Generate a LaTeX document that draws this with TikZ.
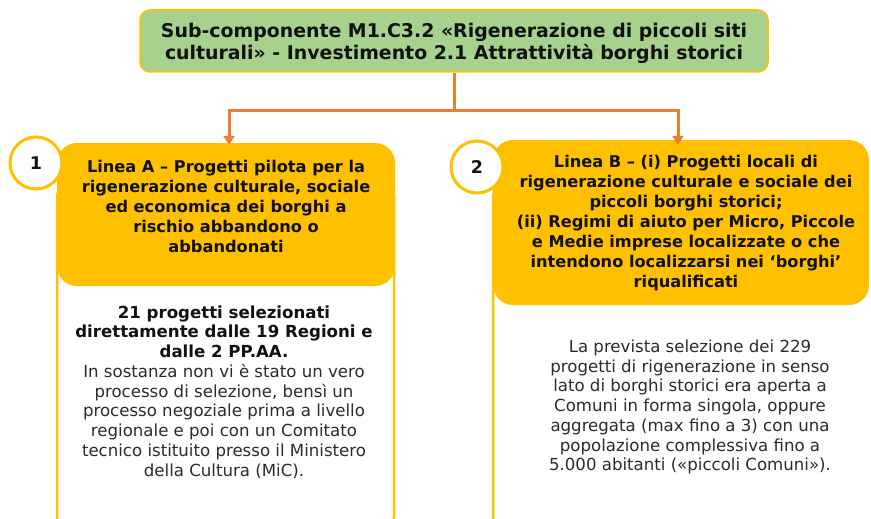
\documentclass[tikz,border=0pt]{standalone}
\usepackage{fontspec}
\setmainfont{DejaVu Sans}
\usetikzlibrary{arrows.meta}
\definecolor{gold}{HTML}{FFC000}
\definecolor{leaf}{HTML}{A9D18E}
\definecolor{connc}{HTML}{ED7D31}
\definecolor{ink}{HTML}{111111}
\definecolor{bodyc}{HTML}{2B2B2B}
\begin{document}
\begin{tikzpicture}[x=1pt,y=-1pt,
  titlebox/.style={draw=gold, line width=1.5pt, fill=leaf, rounded corners=10pt, inner sep=0pt, minimum width=628pt, minimum height=62pt},
  headbox/.style={fill=gold, rounded corners=20pt, inner sep=0pt},
  framebox/.style={draw=gold, line width=2.5pt, fill=white, rounded corners=18pt, inner sep=0pt},
  numcircle/.style={circle, draw=gold, line width=3pt, fill=white, minimum size=52pt, inner sep=0pt, text=ink, font=\fontsize{17.5}{20}\selectfont\bfseries},
  connline/.style={draw=connc, line width=3pt},
  arrowline/.style={connline, -{Triangle[width=11pt,length=9pt]}},
  headtext/.style={align=center, text=ink, font=\fontsize{16.2}{20}\selectfont\bfseries},
  bodytext/.style={align=center, text=bodyc, font=\fontsize{16.6}{19.75}\selectfont},
]
\useasboundingbox (0,0) rectangle (871,519);
% frames
\node[framebox, minimum width=337pt, minimum height=355pt] (frameA) at (225.5,357.5) {};
\begin{scope}
  \clip (480,0) rectangle (866,530);
  \node[framebox, minimum width=420pt, minimum height=355pt] (frameB) at (703,357.5) {};
\end{scope}
% head boxes
\node[headbox, minimum width=338pt, minimum height=143pt] (boxA) at (226,214.5) {};
\node[headbox, minimum width=376pt, minimum height=165pt] (boxB) at (681,222.5) {};
% title
\node[titlebox] (title) at (454,41) {};
\node[align=center, text=ink, font=\fontsize{18.9}{22}\selectfont\bfseries] (titletext) at ([yshift=-2pt]title.center)
  {Sub-componente M1.C3.2 «Rigenerazione di piccoli siti\\culturali» - Investimento 2.1 Attrattività borghi storici};
% connectors
\draw[connline] (title.south) -- ++(0,38) coordinate (fork);
\draw[arrowline] (fork) -| ([xshift=3pt,yshift=-2pt]boxA.north);
\draw[arrowline] (fork) -| ([xshift=-3pt,yshift=-5pt]boxB.north);
% circles
\node[numcircle] (numA) at (36,163) {1};
\node[numcircle] (numB) at (477,167) {2};
% texts
\node[headtext] (textA) at (226,206)
  {Linea A – Progetti pilota per la\\rigenerazione culturale, sociale\\ed economica dei borghi a\\rischio abbandono o\\abbandonati};
\node[headtext] (textB) at (686,223)
  {Linea B – (i) Progetti locali di\\rigenerazione culturale e sociale dei\\piccoli borghi storici;\\(ii) Regimi di aiuto per Micro, Piccole\\e Medie imprese localizzate o che\\intendono localizzarsi nei ‘borghi’\\riqualificati};
\node[bodytext] (bodyA) at (224,392)
  {\textcolor{ink}{\bfseries 21 progetti selezionati}\\\textcolor{ink}{\bfseries direttamente dalle 19 Regioni e}\\\textcolor{ink}{\bfseries dalle 2 PP.AA.}\\In sostanza non vi è stato un vero\\processo di selezione, bensì un\\processo negoziale prima a livello\\regionale e poi con un Comitato\\tecnico istituito presso il Ministero\\della Cultura (MiC).};
\node[bodytext] (bodyB) at (690,407)
  {La prevista selezione dei 229\\progetti di rigenerazione in senso\\lato di borghi storici era aperta a\\Comuni in forma singola, oppure\\aggregata (max fino a 3) con una\\popolazione complessiva fino a\\5.000 abitanti («piccoli Comuni»).};
\end{tikzpicture}
\end{document}
